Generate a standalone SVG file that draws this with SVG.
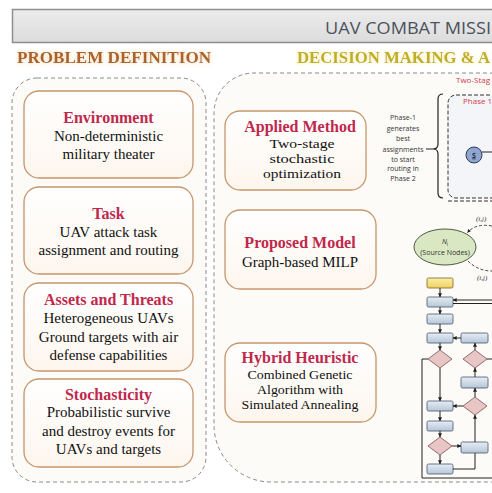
<svg xmlns="http://www.w3.org/2000/svg" width="492" height="493" viewBox="0 0 492 493">
<defs>
<style>
.panel{fill:#fdfbf8;stroke:#8a8a8a;stroke-width:1;stroke-dasharray:4 3}
.card{fill:url(#gc);stroke:#c7966a;stroke-width:1.3}
.ttl{font-family:"Liberation Serif",serif;font-weight:bold;font-size:16px;fill:#c0284c;text-anchor:middle}
.bd{font-family:"Liberation Serif",serif;font-size:15px;fill:#111;text-anchor:middle}
.bs{font-family:"Liberation Serif",serif;font-size:13.5px;fill:#111;text-anchor:middle}
.sm{font-family:"Open Sans",sans-serif;font-size:7px;fill:#333;text-anchor:middle}
.red{font-family:"Open Sans",sans-serif;font-size:8px;fill:#d03a4c}
.fb{fill:url(#gb);stroke:#45566a;stroke-width:0.8}
.fy{fill:url(#gy);stroke:#7a6430;stroke-width:0.8}
.fd{fill:#e9c6c6;stroke:#7a4f4f;stroke-width:0.8}
.ln{fill:none;stroke:#222;stroke-width:1}
.ar{fill:none;stroke:#222;stroke-width:1;marker-end:url(#ah)}
.cv{fill:none;stroke:#333;stroke-width:0.9;stroke-dasharray:3 2}
</style>
<linearGradient id="gc" x1="0" y1="0" x2="0" y2="1"><stop offset="0" stop-color="#ffffff"/><stop offset="1" stop-color="#fdf6ee"/></linearGradient>
<linearGradient id="gb" x1="0" y1="0" x2="0" y2="1"><stop offset="0" stop-color="#e6edf5"/><stop offset="1" stop-color="#b6c6d8"/></linearGradient>
<linearGradient id="gy" x1="0" y1="0" x2="0" y2="1"><stop offset="0" stop-color="#fbefa6"/><stop offset="1" stop-color="#efd060"/></linearGradient>
<linearGradient id="gh" x1="0" y1="0" x2="0" y2="1"><stop offset="0" stop-color="#ececec"/><stop offset="1" stop-color="#dcdcdc"/></linearGradient>
<marker id="ah" viewBox="0 0 6 6" refX="5.5" refY="3" markerWidth="4" markerHeight="4" orient="auto"><path d="M0,0 L6,3 L0,6 z" fill="#222"/></marker>
<filter id="glowO" x="-10%" y="-60%" width="120%" height="220%">
<feGaussianBlur in="SourceAlpha" stdDeviation="2" result="b"/>
<feFlood flood-color="#f5c27e" flood-opacity="0.7"/>
<feComposite in2="b" operator="in" result="g"/>
<feMerge><feMergeNode in="g"/><feMergeNode in="SourceGraphic"/></feMerge>
</filter>
<filter id="glowY" x="-10%" y="-60%" width="120%" height="220%">
<feGaussianBlur in="SourceAlpha" stdDeviation="2" result="b"/>
<feFlood flood-color="#f3e27a" flood-opacity="0.7"/>
<feComposite in2="b" operator="in" result="g"/>
<feMerge><feMergeNode in="g"/><feMergeNode in="SourceGraphic"/></feMerge>
</filter>
</defs>
<rect width="492" height="493" fill="#ffffff"/>

<g id="header">
<rect x="12.5" y="9.5" width="490" height="33" fill="url(#gh)" stroke="#8e8e8e" stroke-width="1.5"/>
<text x="325" y="34" font-family="Open Sans, sans-serif" font-size="16" fill="#4a525c" textLength="166" lengthAdjust="spacingAndGlyphs">UAV COMBAT MISSI</text>
</g>

<g id="section-titles">
<text x="17" y="63" font-family="Liberation Serif, serif" font-weight="bold" font-size="16" fill="#a8622e" textLength="194" lengthAdjust="spacingAndGlyphs" filter="url(#glowO)">PROBLEM DEFINITION</text>
<text x="297" y="63" font-family="Liberation Serif, serif" font-weight="bold" font-size="16" fill="#bfae2c" textLength="193" lengthAdjust="spacingAndGlyphs" filter="url(#glowY)">DECISION MAKING &amp; A</text>
</g>

<g id="panels">
<rect class="panel" x="12" y="78" width="194" height="404" rx="25"/>
<path class="panel" d="M 494 73 L 254 73 A 40 40 0 0 0 214 113 L 214 425 A 57 57 0 0 0 271 482 L 494 482"/>
</g>

<g id="environment">
<rect class="card" x="24" y="91" width="169" height="87" rx="15"/>
<text class="ttl" x="108.5" y="123">Environment</text>
<text class="bd" x="108.5" y="141">Non-deterministic</text>
<text class="bd" x="108.5" y="159">military theater</text>
</g>
<g id="task">
<rect class="card" x="24" y="187" width="169" height="87" rx="15"/>
<text class="ttl" x="108.5" y="219">Task</text>
<text class="bd" x="108.5" y="237">UAV attack task</text>
<text class="bd" x="108.5" y="255">assignment and routing</text>
</g>
<g id="assets">
<rect class="card" x="24" y="283" width="169" height="88" rx="15"/>
<text class="ttl" x="108.5" y="305">Assets and Threats</text>
<text class="bd" x="108.5" y="323">Heterogeneous UAVs</text>
<text class="bd" x="108.5" y="342">Ground targets with air</text>
<text class="bd" x="108.5" y="360">defense capabilities</text>
</g>
<g id="stochasticity">
<rect class="card" x="24" y="379" width="169" height="88" rx="15"/>
<text class="ttl" x="108.5" y="400">Stochasticity</text>
<text class="bd" x="108.5" y="417">Probabilistic survive</text>
<text class="bd" x="108.5" y="436">and destroy events for</text>
<text class="bd" x="108.5" y="454">UAVs and targets</text>
</g>

<g id="applied-method">
<rect class="card" x="225" y="111" width="141" height="79" rx="15"/>
<text class="ttl" x="300" y="132">Applied Method</text>
<text class="bs" x="302" y="147.5" textLength="65" lengthAdjust="spacingAndGlyphs">Two-stage</text>
<text class="bs" x="302" y="162.5" textLength="65" lengthAdjust="spacingAndGlyphs">stochastic</text>
<text class="bs" x="302" y="177.5" textLength="78" lengthAdjust="spacingAndGlyphs">optimization</text>
</g>
<g id="proposed-model">
<rect class="card" x="225" y="210" width="151" height="79" rx="15"/>
<text class="ttl" x="300" y="248">Proposed Model</text>
<text class="bd" x="300" y="267">Graph-based MILP</text>
</g>
<g id="hybrid-heuristic">
<rect class="card" x="225" y="343" width="151" height="79" rx="15"/>
<text class="ttl" x="300" y="363">Hybrid Heuristic</text>
<text class="bs" x="300" y="378.5" textLength="105" lengthAdjust="spacingAndGlyphs">Combined Genetic</text>
<text class="bs" x="300" y="393.5" textLength="86" lengthAdjust="spacingAndGlyphs">Algorithm with</text>
<text class="bs" x="300" y="408.5" textLength="117" lengthAdjust="spacingAndGlyphs">Simulated Annealing</text>
</g>

<g id="phase-note">
<text class="sm" x="403" y="120">Phase-1</text>
<text class="sm" x="403" y="131">generates</text>
<text class="sm" x="403" y="141">best</text>
<text class="sm" x="403" y="152">assignments</text>
<text class="sm" x="403" y="162">to start</text>
<text class="sm" x="403" y="171">routing in</text>
<text class="sm" x="403" y="181">Phase 2</text>
</g>

<g id="two-stage">
<text class="red" x="456" y="83">Two-Stag</text>
<rect x="448" y="95" width="60" height="103" rx="8" fill="#f3f5f9" stroke="#333" stroke-width="1" stroke-dasharray="4 2"/>
<text class="red" x="463" y="104">Phase 1</text>
</g>
<g id="node-s">
<circle cx="474" cy="155" r="8" fill="#8ea6cf" stroke="#2f3a55" stroke-width="1"/>
<text x="474" y="157.5" font-family="Open Sans, sans-serif" font-size="7" font-weight="bold" fill="#1e2740" text-anchor="middle" text-decoration="underline">S</text>
</g>
<g id="source-nodes">
<ellipse cx="445" cy="247" rx="31" ry="18" fill="#d9e8c2" stroke="#4d5a48" stroke-width="1"/>
<text x="445" y="244" font-family="Open Sans, sans-serif" font-size="7" fill="#333" text-anchor="middle"><tspan font-style="italic">N</tspan><tspan font-size="5" dy="1.5">i</tspan></text>
<text class="sm" x="445" y="255">(Source Nodes)</text>
</g>
<g id="flow-boxes">
<rect class="fy" x="427" y="278" width="26" height="10" rx="1.5"/>
<rect class="fb" x="427" y="297" width="26" height="10" rx="1.5"/>
<rect class="fb" x="427" y="314" width="26" height="10" rx="1.5"/>
<rect class="fb" x="427" y="333" width="26" height="10" rx="1.5"/>
<rect class="fb" x="461" y="333" width="27" height="10" rx="1.5"/>
<polygon class="fd" points="440,350 452,359 440,368 428,359"/>
<polygon class="fd" points="475,350 487,359 475,368 463,359"/>
<rect class="fb" x="461" y="377" width="27" height="11" rx="1.5"/>
<polygon class="fd" points="475,397 487,406 475,415 463,406"/>
<rect class="fb" x="427" y="401" width="26" height="10" rx="1.5"/>
<rect class="fb" x="427" y="421" width="26" height="10" rx="1.5"/>
<polygon class="fd" points="440,437 452,446 440,455 428,446"/>
<rect class="fb" x="461" y="442" width="27" height="11" rx="1.5"/>
<rect class="fb" x="427" y="464" width="26" height="10" rx="1.5"/>
</g>

<g id="connectors">
<path class="ln" d="M 426 149 L 433 149"/>
<path d="M 443 94 Q 438 94 438 99 L 438 144 Q 438 149 433 149 Q 438 149 438 154 L 438 193 Q 438 198 443 198" fill="none" stroke="#222" stroke-width="1.2"/>
<path class="ln" d="M 482 152 L 492 152"/>
<path d="M 448 201 L 492 201" fill="none" stroke="#333" stroke-width="1.2" stroke-dasharray="4 2"/>
<path class="cv" d="M 492 226 Q 476 223 467.5 232.5" marker-end="url(#ah)"/>
<text x="476" y="221" font-family="Liberation Serif, serif" font-style="italic" font-size="7" fill="#333">(i,j)</text>
<path class="cv" d="M 468 261 Q 478 271 492 271"/>
<text x="477" y="280" font-family="Liberation Serif, serif" font-style="italic" font-size="7" fill="#333">(i,j)</text>
<path class="ar" d="M 440 288 L 440 297"/>
<path class="ar" d="M 492 300 L 453 300"/>
<path class="ln" d="M 492 303.5 L 453 303.5"/>
<path class="ar" d="M 440 307 L 440 314"/>
<path class="ar" d="M 440 324 L 440 333"/>
<path class="ar" d="M 461 338 L 453 338"/>
<path class="ar" d="M 440 343 L 440 350"/>
<path class="ln" d="M 428 359 L 422 359 L 422 478 L 492 478"/>
<path class="ar" d="M 440 368 L 440 401"/>
<path class="ar" d="M 463 406 L 453 406"/>
<path class="ar" d="M 475 397 L 475 388"/>
<path class="ar" d="M 475 377 L 475 368"/>
<path class="ar" d="M 475 350 L 475 343"/>
<path class="ln" d="M 487 359 L 492 359"/>
<path class="ar" d="M 440 411 L 440 421"/>
<path class="ar" d="M 440 431 L 440 437"/>
<path class="ar" d="M 452 446 L 461 446"/>
<path class="ar" d="M 440 455 L 440 464"/>
<path class="ln" d="M 453 469 L 475 469 L 475 453"/>
<path class="ar" d="M 475 442 L 475 415"/>
</g>
</svg>
